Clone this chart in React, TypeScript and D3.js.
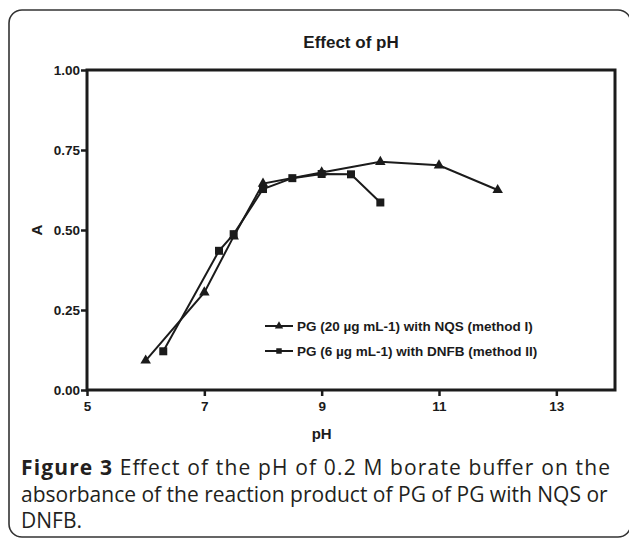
import React, { useEffect, useRef } from "react";
import * as d3 from "d3";

const title = "Effect of pH";
const xTicks = [5, 7, 9, 11, 13];
const yTicks = [0, 0.25, 0.5, 0.75, 1.0];

const phNqs = [6, 7, 7.5, 8, 9, 10, 11, 12];
const absNqs = [0.092, 0.305, 0.48, 0.645, 0.68, 0.713, 0.702, 0.625];

const phDnfb = [6.3, 7.25, 7.5, 8, 8.5, 9, 9.5, 10];
const absDnfb = [0.121, 0.435, 0.487, 0.628, 0.662, 0.675, 0.674, 0.586];

const legendLabels = [
  "PG (20 \u00b5g mL-1) with NQS (method I)",
  "PG (6 \u00b5g mL-1) with DNFB (method II)",
];

const captionLines = [
  "Effect of the pH of 0.2 M borate buffer on the",
  "absorbance of the reaction product of PG of PG with NQS or",
  "DNFB.",
];

const W = 629;
const H = 538;
const ink = "#1b1b1b";
const axisFont = "'Liberation Sans', Arial, sans-serif";

const App = () => {
  const svgRef = useRef<SVGSVGElement>(null);

  useEffect(() => {
    const svg = d3.select(svgRef.current);
    svg.selectAll("*").remove();

    // outer rounded frame
    svg
      .append("rect")
      .attr("x", 9)
      .attr("y", 10)
      .attr("width", 622)
      .attr("height", 527)
      .attr("rx", 13)
      .attr("fill", "#fff")
      .attr("stroke", "#333")
      .attr("stroke-width", 1.6);

    const x = d3.scaleLinear().domain([5, 14]).range([87, 615]);
    const y = d3.scaleLinear().domain([0, 1]).range([390, 70]);

    svg
      .append("text")
      .attr("x", (x(5) + x(14)) / 2)
      .attr("y", 48)
      .attr("text-anchor", "middle")
      .attr("font-family", axisFont)
      .attr("font-weight", "bold")
      .attr("font-size", 17)
      .attr("fill", ink)
      .text(title);

    // plot frame
    svg
      .append("rect")
      .attr("x", x(5))
      .attr("y", y(1))
      .attr("width", x(14) - x(5))
      .attr("height", y(0) - y(1))
      .attr("fill", "none")
      .attr("stroke", ink)
      .attr("stroke-width", 3);

    const gx = svg
      .append("g")
      .attr("transform", `translate(0,${y(0)})`)
      .call(
        d3
          .axisBottom(x)
          .tickValues(xTicks)
          .tickSize(6)
          .tickSizeOuter(0)
          .tickPadding(5)
          .tickFormat((d: any) => String(d))
      );
    gx.select(".domain").remove();
    gx.selectAll("line").attr("stroke", ink).attr("stroke-width", 2.5);
    gx.selectAll("text")
      .attr("font-family", axisFont)
      .attr("font-weight", "bold")
      .attr("font-size", 13.5)
      .attr("fill", ink);

    const gy = svg
      .append("g")
      .attr("transform", `translate(${x(5)},0)`)
      .call(
        d3
          .axisLeft(y)
          .tickValues(yTicks)
          .tickSize(6)
          .tickSizeOuter(0)
          .tickPadding(1)
          .tickFormat(d3.format(".2f"))
      );
    gy.select(".domain").remove();
    gy.selectAll("line").attr("stroke", ink).attr("stroke-width", 2.5);
    gy.selectAll("text")
      .attr("font-family", axisFont)
      .attr("font-weight", "bold")
      .attr("font-size", 13.5)
      .attr("fill", ink);

    svg
      .append("text")
      .attr("x", x(9))
      .attr("y", 439)
      .attr("text-anchor", "middle")
      .attr("font-family", axisFont)
      .attr("font-weight", "bold")
      .attr("font-size", 15)
      .attr("fill", ink)
      .text("pH");

    svg
      .append("text")
      .attr("transform", `translate(42,${y(0.5)}) rotate(-90)`)
      .attr("text-anchor", "middle")
      .attr("font-family", axisFont)
      .attr("font-weight", "bold")
      .attr("font-size", 15)
      .attr("fill", ink)
      .text("A");

    const line = d3
      .line<[number, number]>()
      .x((d) => x(d[0]))
      .y((d) => y(d[1]));

    const nqs: [number, number][] = phNqs.map((p, i) => [p, absNqs[i]]);
    const dnfb: [number, number][] = phDnfb.map((p, i) => [p, absDnfb[i]]);

    const tri = d3.symbol().type(d3.symbolTriangle).size(48);
    const sq = d3.symbol().type(d3.symbolSquare).size(64);

    [
      { data: nqs, sym: tri },
      { data: dnfb, sym: sq },
    ].forEach((s) => {
      svg
        .append("path")
        .attr("d", line(s.data))
        .attr("fill", "none")
        .attr("stroke", ink)
        .attr("stroke-width", 2);
      svg
        .append("g")
        .selectAll("path")
        .data(s.data)
        .enter()
        .append("path")
        .attr("d", s.sym() as string)
        .attr("transform", (d) => `translate(${x(d[0])},${y(d[1])})`)
        .attr("fill", ink);
    });

    // legend
    const legend = svg.append("g");
    [d3.symbolTriangle, d3.symbolSquare].forEach((type, i) => {
      const ly = 326 + i * 25;
      legend
        .append("line")
        .attr("x1", 265)
        .attr("x2", 293)
        .attr("y1", ly)
        .attr("y2", ly)
        .attr("stroke", ink)
        .attr("stroke-width", 2);
      legend
        .append("path")
        .attr("d", d3.symbol().type(type).size(30)() as string)
        .attr("transform", `translate(279,${ly})`)
        .attr("fill", ink);
      legend
        .append("text")
        .attr("x", 297)
        .attr("y", ly + 5)
        .attr("font-family", axisFont)
        .attr("font-weight", "bold")
        .attr("font-size", 13.5)
        .attr("fill", ink)
        .text(legendLabels[i]);
    });

    // caption
    const capFont = "'Open Sans', 'Noto Sans', sans-serif";
    const cap1 = svg
      .append("text")
      .attr("x", 21)
      .attr("y", 475)
      .attr("font-family", capFont)
      .attr("font-size", 21)
      .attr("fill", "#231f20")
      .attr("textLength", 589)
      .attr("lengthAdjust", "spacing");
    cap1.append("tspan").attr("font-weight", "bold").text("Figure 3 ");
    cap1.append("tspan").text(captionLines[0]);

    captionLines.slice(1).forEach((t, i) => {
      svg
        .append("text")
        .attr("x", 21)
        .attr("y", 502 + i * 26)
        .attr("font-family", capFont)
        .attr("font-size", 21)
        .attr("fill", "#231f20")
        .text(t);
    });
  }, []);

  return (
    <svg
      ref={svgRef}
      width={W}
      height={H}
      style={{ position: "absolute", left: 0, top: 0 }}
    ></svg>
  );
};

export default App;
